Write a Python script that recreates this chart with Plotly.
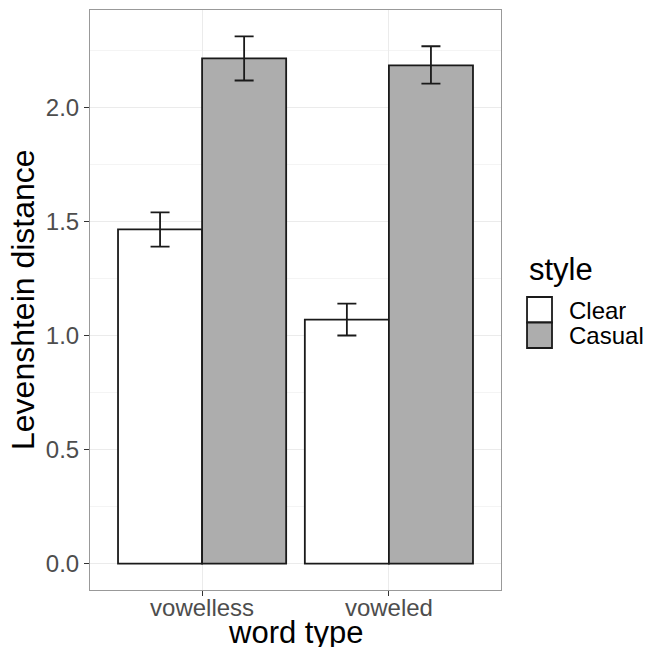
import plotly.graph_objects as go

categories = ["vowelless", "voweled"]
styles = ["Clear", "Casual"]
clear_vals = [1.465, 1.070]
clear_err_hi = [0.075, 0.070]
clear_err_lo = [0.075, 0.070]
casual_vals = [2.215, 2.184]
casual_err_hi = [0.096, 0.084]
casual_err_lo = [0.097, 0.080]
fills = ["#FFFFFF", "#ADADAD"]
y_ticks = [0, 0.5, 1.0, 1.5, 2.0]
y_ticklabels = ["0.0", "0.5", "1.0", "1.5", "2.0"]
x_title = "word type"
y_title = "Levenshtein distance"
legend_title = "style"

OUTLINE = "#1a1a1a"
FONT = "Liberation Sans, Arial, sans-serif"
fig = go.Figure()
for name, vals, hi, lo, fc in [
    (styles[0], clear_vals, clear_err_hi, clear_err_lo, fills[0]),
    (styles[1], casual_vals, casual_err_hi, casual_err_lo, fills[1]),
]:
    fig.add_trace(go.Bar(
        x=categories, y=vals, name=name, showlegend=False,
        marker=dict(color=fc, line=dict(color=OUTLINE, width=1.8)),
        error_y=dict(type="data", array=hi, arrayminus=lo, symmetric=False,
                     color=OUTLINE, thickness=1.8, width=9.5),
        width=0.45,
    ))

# axis titles as annotations (to match ggplot placement)
fig.add_annotation(text=x_title, x=0.5, y=-0.0724, xref="paper", yref="paper",
                   xanchor="center", yanchor="middle", showarrow=False, height=30,
                   font=dict(size=31, color="black"))
fig.add_annotation(text=y_title, x=-0.1630, y=0.5, xref="paper", yref="paper",
                   xanchor="center", yanchor="middle", showarrow=False, textangle=-90,
                   font=dict(size=32, color="black"))

# custom legend (ggplot-style large keys)
key_x0, key_x1 = 1.0633, 1.1241
key_top = 0.5052
key_h = 0.0440
text_x = 1.163
fig.add_annotation(text=legend_title, x=key_x0, y=0.553, xref="paper", yref="paper",
                   xanchor="left", yanchor="middle", showarrow=False,
                   font=dict(size=31, color="black"))
for i, (name, fc) in enumerate(zip(styles, fills)):
    y1 = key_top - i * key_h
    y0 = y1 - key_h
    fig.add_shape(type="rect", xref="paper", yref="paper",
                  x0=key_x0, x1=key_x1, y0=y0, y1=y1,
                  fillcolor=fc, line=dict(color=OUTLINE, width=1.8))
    fig.add_annotation(text=name, x=text_x, y=(y0 + y1) / 2, xref="paper", yref="paper",
                       xanchor="left", yanchor="middle", showarrow=False, height=24,
                       borderpad=0, font=dict(size=24, color="black"))

fig.update_layout(
    barmode="group", bargap=0.1, bargroupgap=0,
    width=650, height=654,
    margin=dict(l=90, r=149, t=10, b=64),
    plot_bgcolor="white", paper_bgcolor="white",
    font=dict(family=FONT, color="black"),
    showlegend=False,
)
fig.update_xaxes(
    tickfont=dict(size=24, color="#4D4D4D"),
    range=[-0.6, 1.6], showgrid=True, gridcolor="#EBEBEB", gridwidth=1,
    ticks="outside", ticklen=5, tickcolor="#333333", ticklabelstandoff=-9,
    showline=True, linecolor="#999999", mirror=True, linewidth=1, zeroline=False,
)
fig.update_yaxes(
    tickfont=dict(size=24, color="#4D4D4D"),
    range=[-0.1156, 2.427], tickvals=y_ticks, ticktext=y_ticklabels,
    showgrid=True, gridcolor="#EBEBEB", gridwidth=1,
    minor=dict(tickvals=[0.25, 0.75, 1.25, 1.75, 2.25], showgrid=True, gridcolor="#F4F4F4", gridwidth=1),
    ticks="outside", ticklen=5, tickcolor="#333333",
    showline=True, linecolor="#999999", mirror=True, linewidth=1, zeroline=False,
)
fig.write_html("out.html", config={"displayModeBar": False},
               post_script="document.body.style.margin='0';")
